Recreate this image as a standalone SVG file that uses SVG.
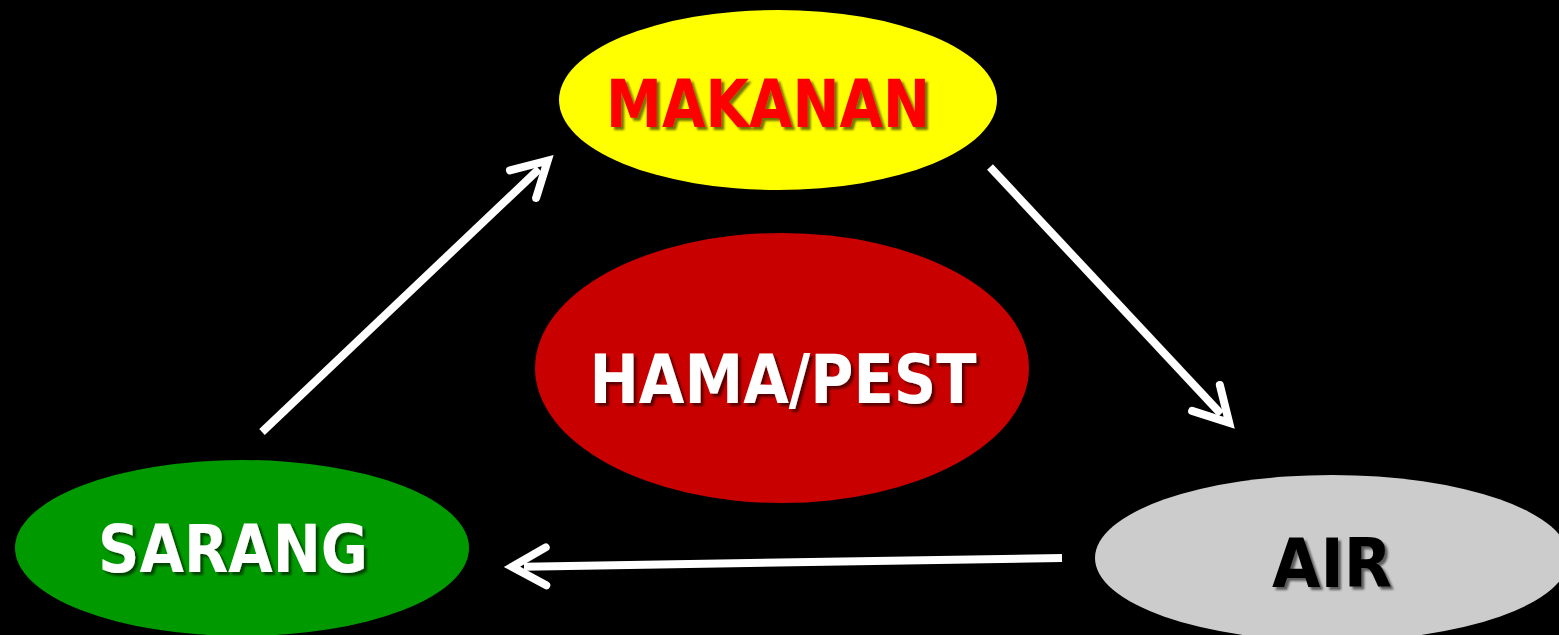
<svg xmlns="http://www.w3.org/2000/svg" width="1559" height="635" viewBox="0 0 1559 635">
<style>
.lbl{font-family:"DejaVu Sans",Verdana,sans-serif;font-weight:bold;text-anchor:middle;filter:url(#sh)}
.con{stroke:#fff;stroke-width:8;fill:none;marker-end:url(#ah)}
</style>
<defs>
<filter id="sh" x="-10%" y="-20%" width="130%" height="150%">
<feDropShadow dx="3" dy="3" stdDeviation="1" flood-color="#000" flood-opacity="0.55"/>
</filter>
<marker id="ah" markerUnits="userSpaceOnUse" orient="auto" refX="0" refY="0" markerWidth="80" markerHeight="80" viewBox="-50 -40 80 80" overflow="visible">
<path d="M -22 -19 L 12 0 L -22 19" fill="none" stroke="#fff" stroke-width="8" stroke-linecap="round" stroke-linejoin="miter" stroke-miterlimit="10"/>
</marker>
</defs>
<rect width="1559" height="635" fill="#000"/>
<g id="makanan">
<ellipse cx="778" cy="100" rx="219" ry="90" fill="#ffff00"/>
<text class="lbl" x="768" y="127" font-size="66" fill="#ff0000" textLength="324" lengthAdjust="spacingAndGlyphs">MAKANAN</text>
</g>
<g id="hama">
<ellipse cx="782" cy="368" rx="247" ry="135" fill="#c80000"/>
<text class="lbl" x="783" y="403" font-size="68" fill="#fff" textLength="387" lengthAdjust="spacingAndGlyphs">HAMA/PEST</text>
</g>
<g id="sarang">
<ellipse cx="242" cy="548" rx="227" ry="88" fill="#009900"/>
<text class="lbl" x="233" y="572" font-size="66" fill="#fff" textLength="270" lengthAdjust="spacingAndGlyphs">SARANG</text>
</g>
<g id="air">
<ellipse cx="1332" cy="558" rx="237" ry="83" fill="#cccccc"/>
<text class="lbl" x="1332" y="587" font-size="68" fill="#000" textLength="120" lengthAdjust="spacingAndGlyphs">AIR</text>
</g>
<g id="connectors">
<line class="con" x1="262" y1="432" x2="539" y2="169"/>
<line class="con" x1="990" y1="167" x2="1221" y2="414"/>
<line class="con" x1="1062" y1="558" x2="524" y2="566.7"/>
</g>
</svg>
